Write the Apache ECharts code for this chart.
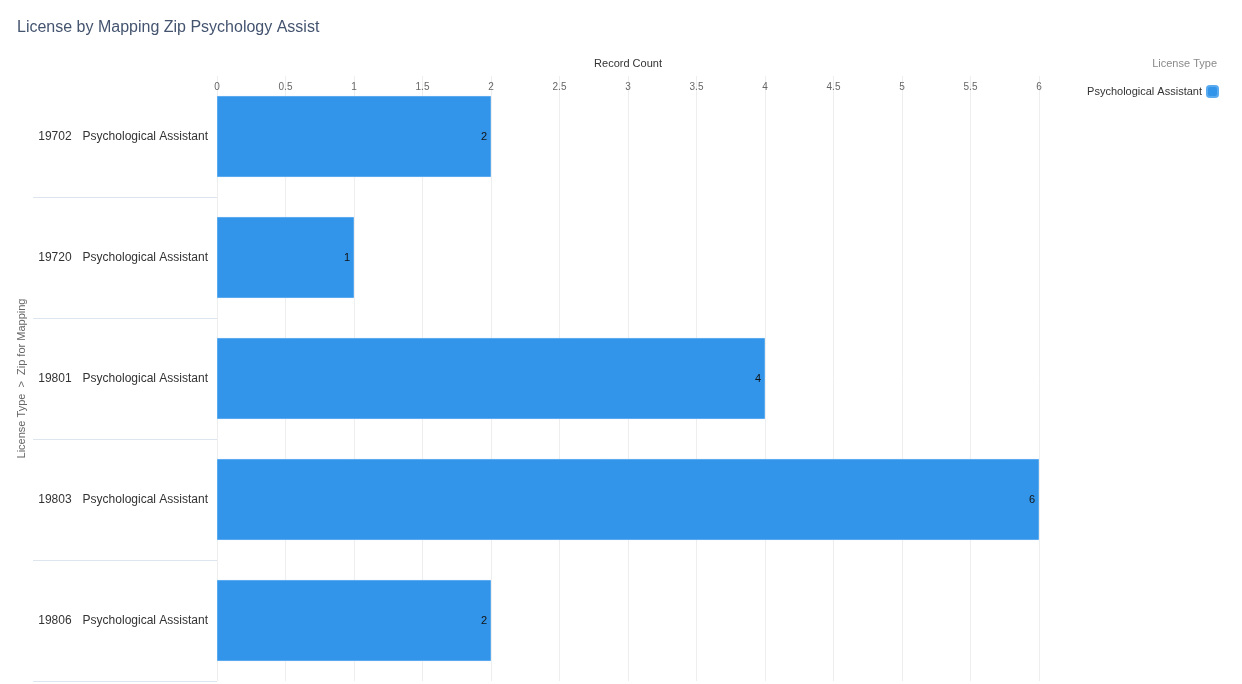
<!DOCTYPE html>
<html><head><meta charset="utf-8">
<script src="https://cdn.jsdelivr.net/npm/echarts@6/dist/echarts.min.js"></script>
<style>html,body{margin:0;padding:0;background:#fff}#c{width:1242px;height:684px}</style>
</head><body><div id="c"></div>
<script>
const zips = ['19702', '19720', '19801', '19803', '19806'];
const licenseTypes = ['Psychological Assistant', 'Psychological Assistant', 'Psychological Assistant', 'Psychological Assistant', 'Psychological Assistant'];
const recordCounts = [2, 1, 4, 6, 2];
const seriesName = 'Psychological Assistant';

const categories = zips.map((z, i) => z + '|' + licenseTypes[i]);
const chart = echarts.init(document.getElementById('c'));
const font = '"Liberation Sans", Arial, sans-serif';
chart.setOption({
  animation: false,
  textStyle: { fontFamily: font },
  title: [
    { text: 'License by Mapping Zip Psychology Assist', left: 12, top: 15,
      textStyle: { fontSize: 16, fontWeight: 'normal', color: '#44546f', fontFamily: font } },
    { text: 'License Type', right: 20, top: 53,
      textStyle: { fontSize: 11, fontWeight: 'normal', color: '#8a8a8a', fontFamily: font } }
  ],
  legend: {
    right: 18, top: 80, align: 'right', itemWidth: 11, itemHeight: 11, icon: 'roundRect',
    textStyle: { fontSize: 11, color: '#333', fontFamily: font },
    data: [seriesName]
  },
  grid: { left: 217, right: 203, top: 76, bottom: 3, containLabel: false },
  xAxis: {
    type: 'value', position: 'top', min: 0, max: 6, interval: 0.5,
    name: 'Record Count', nameLocation: 'middle', nameGap: 7,
    nameTextStyle: { fontSize: 11, color: '#333', fontFamily: font },
    axisLabel: { inside: true, fontSize: 10, color: '#666', margin: 6 },
    axisLine: { show: false }, axisTick: { show: false },
    splitLine: { lineStyle: { color: '#eeeeee' } }
  },
  yAxis: {
    type: 'category', inverse: true, data: categories,
    name: 'License Type  >  Zip for Mapping', nameLocation: 'middle', nameGap: 188,
    nameTextStyle: { fontSize: 11, color: '#666', fontFamily: font },
    axisLine: { show: false },
    axisTick: { show: true, length: 184, lineStyle: { color: '#dde5ee' },
      interval: (i) => i > 0 && i < zips.length },
    axisLabel: {
      margin: 9, fontSize: 12, color: '#333',
      formatter: v => { const p = v.split('|'); return '{z|' + p[0] + '}{l|' + p[1] + '}'; },
      rich: { z: { fontSize: 12, color: '#333', padding: [0, 11, 0, 0] }, l: { fontSize: 12, color: '#333' } }
    }
  },
  series: [{
    name: seriesName, type: 'bar', data: recordCounts, barCategoryGap: '33%',
    itemStyle: { color: '#3395e9', borderColor: '#5aaaf0', borderWidth: 1 },
    label: { show: true, position: 'insideRight', color: '#111', fontSize: 11, distance: 4 }
  }]
});
</script></body></html>
